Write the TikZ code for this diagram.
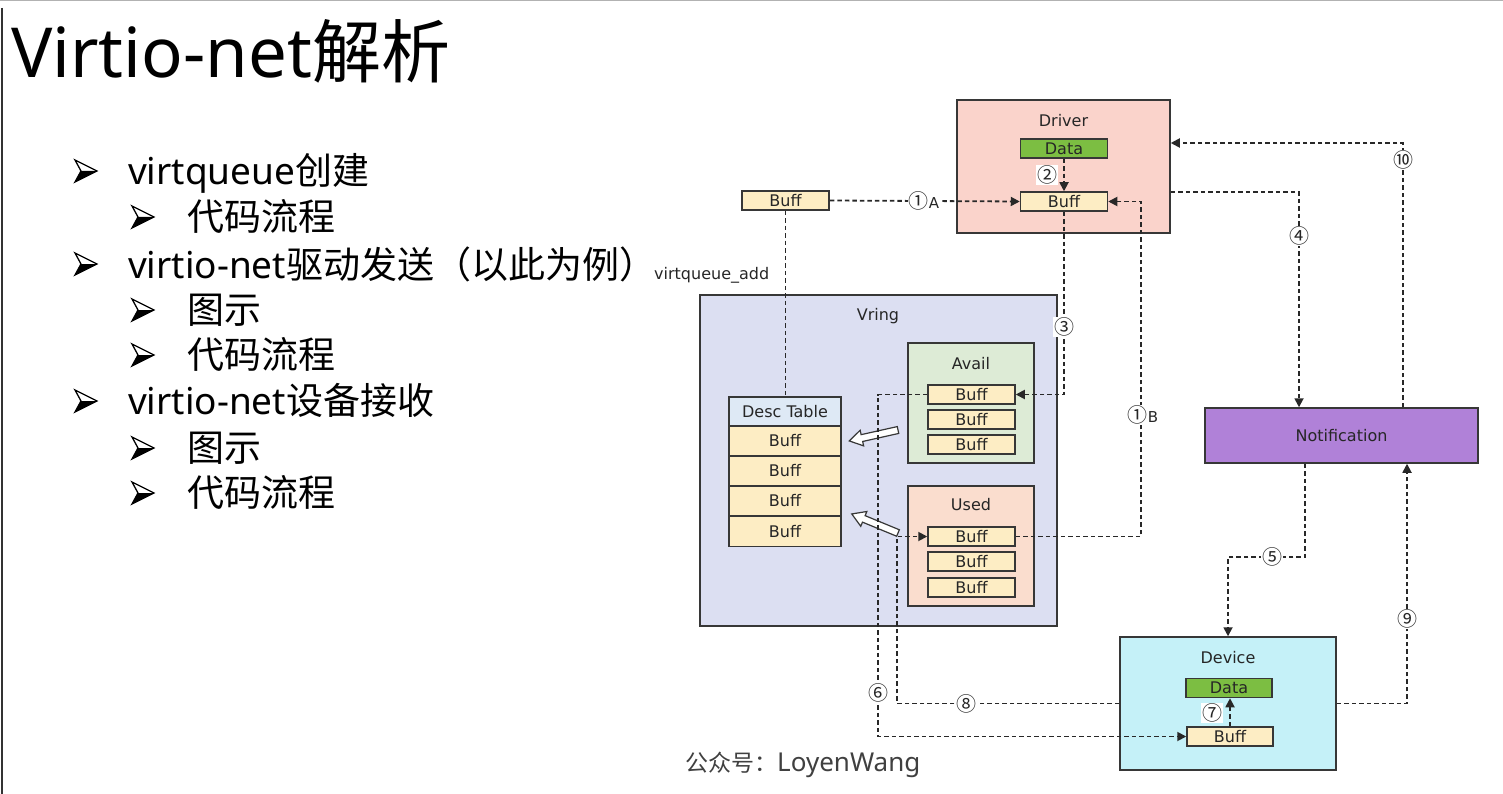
\documentclass[tikz,border=0pt]{standalone}
\usepackage{fontspec}
\setmainfont{Noto Sans CJK SC}
\newfontfamily\cjk{Noto Sans CJK SC}
\newfontfamily\lat{Noto Sans}
\newfontfamily\dv{DejaVu Sans}
\usetikzlibrary{arrows.meta,calc}
\definecolor{bord}{RGB}{55,55,55}
\definecolor{lncol}{RGB}{40,40,40}
\definecolor{drvfill}{RGB}{250,211,203}
\definecolor{datafill}{RGB}{124,190,66}
\definecolor{bufffill}{RGB}{253,237,196}
\definecolor{vringfill}{RGB}{220,223,242}
\definecolor{deschfill}{RGB}{222,233,245}
\definecolor{availfill}{RGB}{221,235,214}
\definecolor{usedfill}{RGB}{250,221,206}
\definecolor{notiffill}{RGB}{176,129,216}
\definecolor{devfill}{RGB}{197,241,248}
\begin{document}
\begin{tikzpicture}[x=1pt,y=-1pt,
  box/.style={draw=bord,line width=1.5pt,rectangle,inner sep=0pt},
  smalltxt/.style={font=\dv\fontsize{16}{16}\selectfont,text=black!85},
  buff/.style={box,fill=bufffill,minimum width=87pt,minimum height=19pt,smalltxt},
  databox/.style={box,fill=datafill,minimum width=87pt,minimum height=19pt,smalltxt},
  descrow/.style={box,fill=bufffill,minimum width=112pt,minimum height=30pt,smalltxt},
  boxlbl/.style={smalltxt,inner sep=0pt},
  conn/.style={draw=lncol,line width=1.8pt,dash pattern=on 4.5pt off 3pt},
  arr/.style={conn,-{Triangle[length=9pt,width=9pt]}},
  num/.style={fill=white,inner sep=0.6pt,font=\cjk\fontsize{20}{20}\selectfont,text=black!85},
  bulT/.style={anchor=base west,inner sep=0pt,font=\fontsize{37}{37}\selectfont},
  bul/.pic={
    \draw[line width=1.3pt,line join=miter,fill=white] (-11,-11) -- (11,0) -- (-11,11) -- (-5,0) -- cycle;
    \fill (-5,0) -- (11,0) -- (-11,11) -- cycle;
  },
  hol/.pic={
    \draw[line width=1.2pt,draw=bord,fill=white,line join=miter] (0,-3.5) -- (37,-3.5) -- (37,-8) -- (50,0) -- (37,8) -- (37,3.5) -- (0,3.5) -- cycle;
  },
]
\useasboundingbox (0,0) rectangle (1503,794);
\fill[white] (0,0) rectangle (1503,794);
% slide edges
\draw[gray!60,line width=1pt] (0,0.5) -- (1503,0.5);
\draw[black!80,line width=2pt] (2,8) -- (2,794);

% title
\node[anchor=base west,inner sep=0pt,font=\fontsize{69}{69}\selectfont] (title) at (11,78) {{\lat Virtio-net}解析};

% bullets
\pic at (86,171) {bul};
\node[bulT] (t1) at (128,185) {{\lat virtqueue}创建};
\pic at (143,217) {bul};
\node[bulT] (t2) at (187,230) {代码流程};
\pic at (86,264) {bul};
\node[bulT] (t3) at (128,278) {{\lat virtio-net}驱动发送（以此为例）};
\pic at (143,310) {bul};
\node[bulT] (t4) at (187,323) {图示};
\pic at (143,355) {bul};
\node[bulT] (t5) at (187,368) {代码流程};
\pic at (86,401) {bul};
\node[bulT] (t6) at (128,414) {{\lat virtio-net}设备接收};
\pic at (143,448) {bul};
\node[bulT] (t7) at (187,461) {图示};
\pic at (143,493) {bul};
\node[bulT] (t8) at (187,506) {代码流程};

\node[smalltxt,anchor=west,inner sep=0pt] (vqadd) at (654,275) {virtqueue\_add};

% Driver
\node[box,fill=drvfill,minimum width=213pt,minimum height=133pt] (driver) at (1063.5,166.5) {};
\node[boxlbl] (driverl) at (1063.5,121) {Driver};
\node[databox] (ddata) at (1064,148.5) {Data};
\node[buff] (dbuff) at (1064,201.5) {Buff};
\node[buff] (lbuff) at (785.5,200.5) {Buff};

% Vring
\node[box,fill=vringfill,minimum width=357pt,minimum height=331pt] (vring) at (878.5,460.5) {};
\node[boxlbl] (vringl) at (878,316) {Vring};
\node[box,fill=deschfill,minimum width=112pt,minimum height=29pt,smalltxt] (desch) at (785,411.5) {Desc Table};
\node[descrow] (desc1) at (785,441) {Buff};
\node[descrow] (desc2) at (785,471) {Buff};
\node[descrow] (desc3) at (785,501) {Buff};
\node[descrow] (desc4) at (785,531.5) {Buff};

\node[box,fill=availfill,minimum width=126pt,minimum height=120pt] (avail) at (971,403) {};
\node[boxlbl] (availl) at (971,364) {Avail};
\node[buff] (ab1) at (971.5,394.5) {Buff};
\node[buff] (ab2) at (971.5,419.5) {Buff};
\node[buff] (ab3) at (971.5,444.5) {Buff};

\node[box,fill=usedfill,minimum width=126pt,minimum height=120pt] (used) at (971,546) {};
\node[boxlbl] (usedl) at (971,505) {Used};
\node[buff] (ub1) at (971.5,536.5) {Buff};
\node[buff] (ub2) at (971.5,561.5) {Buff};
\node[buff] (ub3) at (971.5,587.5) {Buff};

\pic[rotate=192.6] at (898,430) {hol};
\pic[rotate=157.6] at (898,533) {hol};

% Notification
\node[box,fill=notiffill,minimum width=273pt,minimum height=55pt,font=\dv\fontsize{16}{16}\selectfont,text=black!85] (notif) at (1341.5,435.5) {Notification};

% Device
\node[box,fill=devfill,minimum width=216pt,minimum height=133pt] (device) at (1228,703.5) {};
\node[boxlbl] (devicel) at (1228,658) {Device};
\node[databox,minimum width=86pt] (vdata) at (1229,688) {Data};
\node[buff,minimum width=86pt] (vbuff) at (1230,736.5) {Buff};

% footer
\node[anchor=base west,inner sep=0pt,text=black!75] (footer) at (685,771) {\fontsize{23}{23}\selectfont 公众号：{\lat\fontsize{26}{26}\selectfont LoyenWang}};

% coordinates for bends
\coordinate (cB) at (1141,300);
\coordinate (c5) at (1270,557);
\coordinate (c6) at (878,600);
\coordinate (c8) at (897,620);

% connectors
\draw[conn] (lbuff.south) -- (lbuff.south |- desch.north);
\draw[arr] (lbuff.east) -- (dbuff.west);
\node[num] (n1a) at (924,201) {①{\dv\fontsize{15}{15}\selectfont A}};
\draw[arr] (ddata.south) -- (ddata.south |- dbuff.north);
\node[num] (n2) at (1047,175) {②};
\draw[arr] (dbuff.south) |- (ab1.east);
\node[num] (n3) at (1064,327) {③};
\draw[arr] (ub1.east) -| (cB) |- (dbuff.east);
\node[num] (n1b) at (1143,415) {①{\dv\fontsize{15}{15}\selectfont B}};
\draw[arr] ([yshift=-25.5pt]driver.east) -| ([xshift=-42.5pt]notif.north);
\node[num] (n4) at (1299,236) {④};
\draw[arr] ([xshift=61.5pt]notif.north) |- ([yshift=23.5pt]driver.east);
\node[num] (n10) at (1403,160) {⑩};
\draw[arr] ([xshift=-36.5pt]notif.south) |- (c5) -| (device.north);
\node[num] (n5) at (1272,557) {⑤};
\draw[arr] (device.east) -| ([xshift=65.5pt]notif.south);
\node[num] (n9) at (1407,619) {⑨};
\draw[arr] (ab1.west) -| (c6) |- (vbuff.west);
\node[num] (n6) at (878,693) {⑥};
\draw[arr] (vbuff.north) -- (vbuff.north |- vdata.south);
\node[num] (n7) at (1212,713) {⑦};
\draw[arr] (device.west) -| (c8) |- (ub1.west);
\node[num] (n8) at (966,704) {⑧};
\end{tikzpicture}
\end{document}
